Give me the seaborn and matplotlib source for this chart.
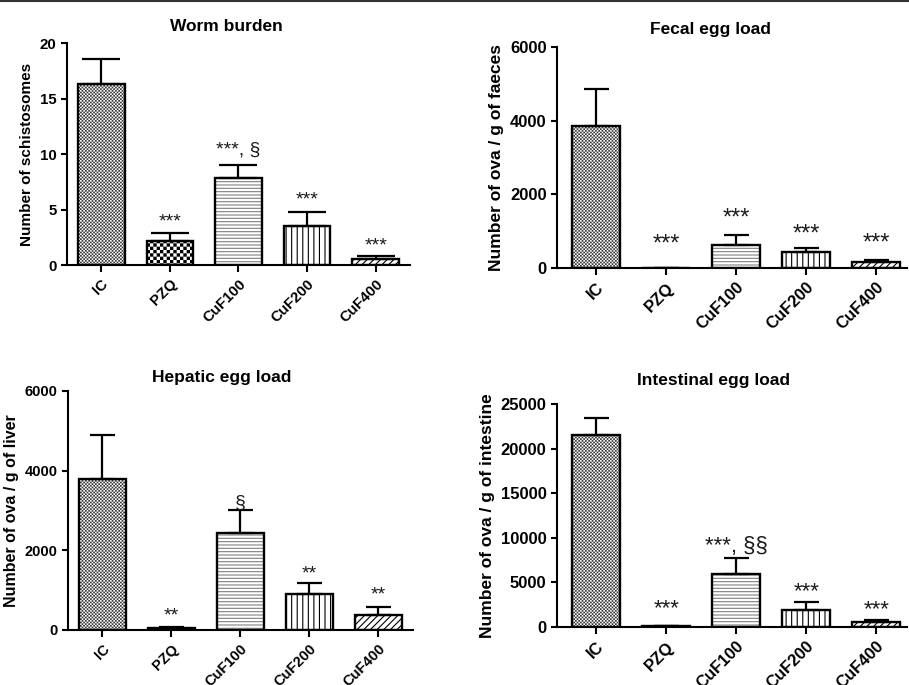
import warnings

import numpy as np
import matplotlib
import matplotlib.pyplot as plt
import seaborn as sns
from matplotlib import hatch as mhatch
from matplotlib.lines import Line2D
from matplotlib.patches import Rectangle
from matplotlib.path import Path

matplotlib.use("Agg")
warnings.filterwarnings("ignore")

sns.set_style("ticks")
plt.rcParams["font.family"] = ["Liberation Sans", "DejaVu Sans"]
plt.rcParams["hatch.linewidth"] = 0.8
for k in ["text.color", "axes.labelcolor", "xtick.color", "ytick.color",
          "axes.edgecolor"]:
    plt.rcParams[k] = "black"

groups = ["IC", "PZQ", "CuF100", "CuF200", "CuF400"]

worm_mean = [16.3, 2.2, 7.8, 3.5, 0.5]
worm_sem = [2.25, 0.65, 1.2, 1.3, 0.3]
worm_marks = ["", "***", "***, §", "***", "***"]
worm_mark_y = [0, 4.5, 11.0, 6.5, 2.3]

fecal_mean = [3850, 0, 635, 435, 155]
fecal_sem = [1000, 0, 260, 120, 65]
fecal_marks = ["", "***", "***", "***", "***"]
fecal_mark_y = [0, 840, 1550, 1115, 860]

hepatic_mean = [3790, 40, 2440, 895, 370]
hepatic_sem = [1100, 30, 570, 275, 215]
hepatic_marks = ["", "**", "§", "**", "**"]
hepatic_mark_y = [0, 520, 3350, 1565, 1055]

intest_mean = [21520, 100, 5990, 1950, 560]
intest_sem = [1950, 60, 1760, 860, 190]
intest_marks = ["", "***", "***, §§", "***", "***"]
intest_mark_y = [0, 2920, 9900, 4790, 2770]

# hatch per group: pattern, colour
HATCH = [("##", "#3a3a3a"), ("#", "black"), ("-----", "#808080"),
         ("|||", "black"), ("/////", "black")]


class Checker(mhatch.HatchPatternBase):
    """filled squares on a chequerboard, selected with '#'"""

    def __init__(self, hatch, density):
        self.cells = 5 * hatch.count("#") * density
        self.num_vertices = (self.cells * self.cells // 2) * 5

    def set_vertices_and_codes(self, vertices, codes):
        s = 1.0 / self.cells
        d = plt.rcParams["hatch.linewidth"] / 72 / 2
        sq = np.array([[d, d], [s - d, d], [s - d, s - d], [d, s - d], [d, d]])
        cells = [(i, j) for i in range(self.cells) for j in range(self.cells)
                 if (i + j) % 2 == 0]
        vertices[:] = np.concatenate([sq + [i * s, j * s] for i, j in cells])
        codes[:] = np.tile([Path.MOVETO, Path.LINETO, Path.LINETO,
                            Path.LINETO, Path.CLOSEPOLY], len(cells))


mhatch._hatch_types.append(Checker)


def panel(fig, rect, mean, sem, marks, mark_y, title, ylabel, ylim, yticks,
          xlim, capsize, tick_fs, lab_fs, mark_fs, title_x, title_pad):
    ax = fig.add_axes(rect)
    sns.barplot(x=groups, y=mean, ax=ax, width=0.68, color="white",
                edgecolor="black", linewidth=1.6, errorbar=None, saturation=1)
    for p, (h, hc) in zip(ax.patches, HATCH):
        p.set_hatch(h)
        p.set_edgecolor(hc)
        p.set_linewidth(0)
        ax.add_patch(Rectangle(p.get_xy(), p.get_width(), p.get_height(),
                               fill=False, ec="black", lw=1.7, zorder=2))
    ax.errorbar(range(len(groups)), mean, yerr=[np.zeros(len(sem)), sem],
                fmt="none", ecolor="black", elinewidth=1.6, capsize=capsize,
                capthick=1.6, zorder=3)
    for i, (m, y) in enumerate(zip(marks, mark_y)):
        if m:
            ax.annotate(m, xy=(i, y), xytext=(0, -0.58 * mark_fs),
                        textcoords="offset points", ha="center",
                        va="baseline", fontsize=mark_fs, color="#1a1a1a")
    ax.set_xlim(*xlim)
    ax.set_ylim(*ylim)
    ax.set_yticks(yticks)
    ax.set_title(title, fontsize=12.5, fontweight="bold", x=title_x, pad=title_pad)
    ax.set_ylabel(ylabel, fontsize=lab_fs, fontweight="bold")
    ax.set_xlabel("")
    sns.despine(ax=ax)
    for s in ["left", "bottom"]:
        ax.spines[s].set_linewidth(1.5)
    ax.tick_params(axis="x", length=5, width=1.5)
    ax.tick_params(axis="y", length=4, width=1.5, labelsize=tick_fs)
    for t in ax.get_yticklabels():
        t.set_fontweight("bold")
    plt.setp(ax.get_xticklabels(), rotation=45, ha="right", va="top",
             rotation_mode="anchor", fontweight="bold", fontsize=tick_fs)
    return ax


fig = plt.figure(figsize=(9.09, 6.85), dpi=100)

panel(fig, [0.0737, 0.6131, 0.3773, 0.3241], worm_mean, worm_sem, worm_marks,
      worm_mark_y, "Worm burden", "Number of schistosomes", (0, 20),
      [0, 5, 10, 15, 20], (-0.5, 4.5), 13.5, 10.8, 11, 14, 0.466, 9)
panel(fig, [0.6128, 0.6088, 0.3850, 0.3226], fecal_mean, fecal_sem, fecal_marks,
      fecal_mark_y, "Fecal egg load", "Number of ova / g of faeces", (0, 6000),
      [0, 2000, 4000, 6000], (-0.56, 4.44), 9, 12, 12.5, 17, 0.437, 9)
panel(fig, [0.0748, 0.0803, 0.3795, 0.3489], hepatic_mean, hepatic_sem,
      hepatic_marks, hepatic_mark_y, "Hepatic egg load",
      "Number of ova / g of liver", (0, 6000), [0, 2000, 4000, 6000],
      (-0.5, 4.5), 9, 10.5, 11.5, 14, 0.446, 6.5)
panel(fig, [0.6128, 0.0847, 0.3850, 0.3255], intest_mean, intest_sem,
      intest_marks, intest_mark_y, "Intestinal egg load",
      "Number of ova / g of intestine", (0, 25000),
      [0, 5000, 10000, 15000, 20000, 25000], (-0.56, 4.44), 9, 12, 12.5, 16,
      0.446, 14)

fig.add_artist(Line2D([0, 1], [0.998, 0.998], transform=fig.transFigure,
                      color="#333333", lw=1.5))

fig.savefig("out.png", dpi=100)
